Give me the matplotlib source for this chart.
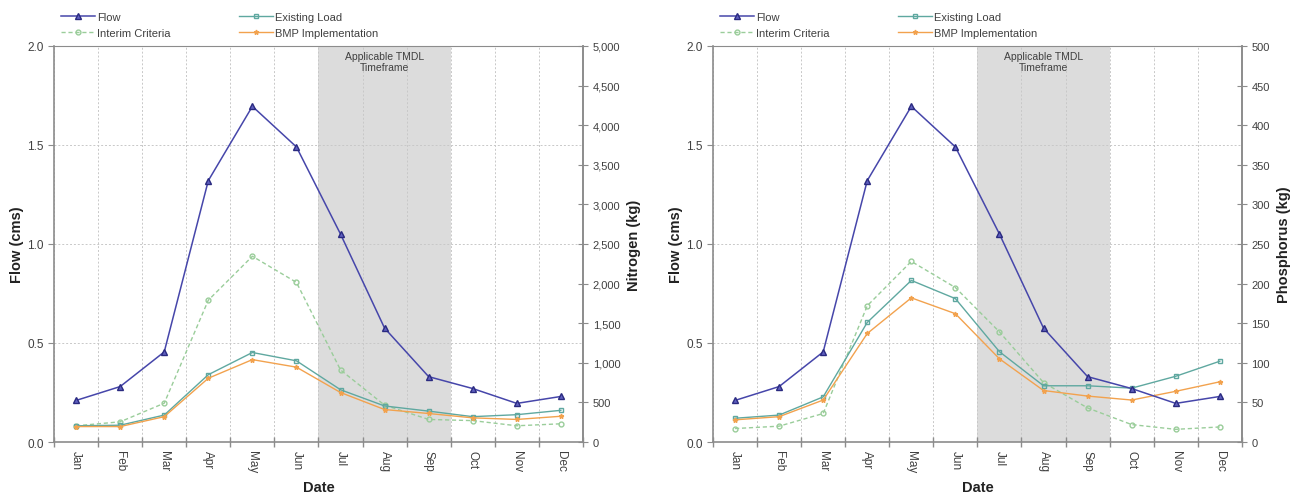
import numpy as np
import matplotlib.pyplot as plt
from matplotlib.ticker import FuncFormatter, MultipleLocator

plt.rcParams['font.family'] = ['Liberation Sans', 'DejaVu Sans']

months = ['Jan', 'Feb', 'Mar', 'Apr', 'May', 'Jun', 'Jul', 'Aug', 'Sep', 'Oct', 'Nov', 'Dec']

# flow (cms), same on both panels
flow = [0.21, 0.28, 0.455, 1.32, 1.695, 1.49, 1.05, 0.575, 0.33, 0.27, 0.195, 0.23]

# nitrogen (kg)
n_existing = [205, 212, 340, 850, 1130, 1025, 660, 455, 390, 320, 345, 400]
n_interim = [205, 255, 490, 1790, 2345, 2015, 910, 465, 285, 270, 205, 230]
n_bmp = [195, 195, 320, 805, 1040, 945, 625, 410, 360, 305, 285, 325]

# phosphorus (kg)
p_existing = [30, 34, 57, 151, 204, 181, 114, 71, 71, 68, 83, 102]
p_interim = [17, 20, 36, 172, 228, 195, 139, 75, 43, 22, 16, 19]
p_bmp = [28, 32, 53, 137, 182, 162, 105, 65, 58, 53, 64, 76]

c_flow = '#4646AA'
c_exist = '#5FA8A0'
c_interim = '#9ACD9A'
c_bmp = '#F2A24E'
grid_c = '#C8C8C8'
spine_c = '#8C8C8C'
txt_c = '#404040'

fig = plt.figure(figsize=(13.09, 5.02), dpi=100)


def panel(left, existing, interim, bmp, rmax, rstep, rlabel):
    ax = fig.add_axes([left, 0.1175, 0.404, 0.789])
    x = np.arange(12)
    ax.set_xlim(-0.5, 11.5)
    ax.set_ylim(0, 2.0)
    ax.axvspan(5.5, 8.5, color='#DCDCDC', zorder=0, lw=0)
    ax.text(7, 1.975, 'Applicable TMDL\nTimeframe', ha='center', va='top',
            fontsize=7.5, color=txt_c, linespacing=1.15)

    ax.set_xticks(x)
    ax.set_xticklabels(months, rotation=-90, fontsize=8.5, color=txt_c)
    ax.set_xticks(np.arange(-0.5, 12, 1), minor=True)
    ax.tick_params(axis='x', which='major', length=0, pad=6)
    ax.tick_params(axis='x', which='minor', direction='inout', length=7,
                   color=spine_c, width=1)
    ax.xaxis.grid(True, which='minor', color=grid_c, ls=(0, (2, 2)), lw=0.7)

    ax.yaxis.set_major_locator(MultipleLocator(0.5))
    ax.yaxis.set_major_formatter(FuncFormatter(lambda v, p: f'{v:.1f}'))
    ax.yaxis.grid(True, color=grid_c, ls=(0, (2, 2)), lw=0.7)
    ax.tick_params(axis='y', direction='out', length=4, color=spine_c,
                   labelsize=8.5, labelcolor=txt_c)
    ax.set_axisbelow(True)
    for s in ax.spines.values():
        s.set_color(spine_c)
        s.set_linewidth(1.2)
    ax.spines['top'].set_linewidth(0.8)

    ax.set_ylabel('Flow (cms)', fontsize=10.5, fontweight='bold', color='#222222', labelpad=2)
    ax.set_xlabel('Date', fontsize=10.5, fontweight='bold', color='#222222', labelpad=5)

    ax2 = ax.twinx()
    ax2.set_ylim(0, rmax)
    ax2.yaxis.set_major_locator(MultipleLocator(rstep))
    ax2.yaxis.set_major_formatter(FuncFormatter(lambda v, p: f'{v:,.0f}'))
    ax2.tick_params(axis='y', direction='inout', length=7, color=spine_c,
                    labelsize=8, labelcolor=txt_c)
    for s in ax2.spines.values():
        s.set_visible(False)
    ax2.spines['right'].set_visible(True)
    ax2.spines['right'].set_color(spine_c)
    ax2.spines['right'].set_linewidth(1.2)
    ax2.set_ylabel(rlabel, fontsize=10.5, fontweight='bold', color='#222222', labelpad=5)

    hi, = ax2.plot(x, interim, color=c_interim, ls=(0, (3, 2)), lw=1,
                   marker='o', ms=3.5, mfc='none', mec=c_interim, label='Interim Criteria')
    he, = ax2.plot(x, existing, color=c_exist, lw=1, marker='s', ms=3.5,
                   mfc='none', mec=c_exist, label='Existing Load')
    hb, = ax2.plot(x, bmp, color=c_bmp, lw=1, marker='*', ms=3.5,
                   mec=c_bmp, label='BMP Implementation')
    hf, = ax2.plot(x, np.array(flow) * rmax / 2.0, color=c_flow, lw=1.1,
                   marker='^', ms=4.5, mfc='#6060C0', mec='#2A2A80', label='Flow')

    fig.legend([hf, hi, he, hb], ['Flow', 'Interim Criteria', 'Existing Load', 'BMP Implementation'],
               ncol=2, loc='upper left', bbox_to_anchor=(left - 0.002, 0.995), frameon=False,
               fontsize=8, handlelength=3.0, columnspacing=6.2, labelspacing=0.55,
               handletextpad=0.2, labelcolor=txt_c)


panel(0.0413, n_existing, n_interim, n_bmp, 5000, 500, 'Nitrogen (kg)')
panel(0.5447, p_existing, p_interim, p_bmp, 500, 50, 'Phosphorus (kg)')

fig.savefig('out.png', dpi=100)
